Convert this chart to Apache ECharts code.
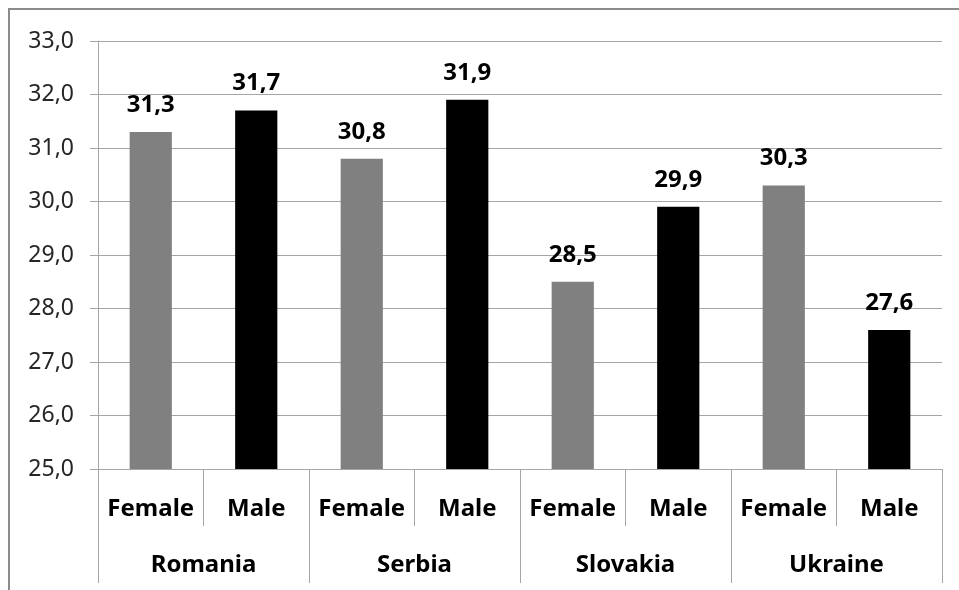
<!DOCTYPE html>
<html>
<head>
<meta charset="utf-8">
<script src="https://cdn.jsdelivr.net/npm/echarts@6/dist/echarts.min.js"></script>
<style>
  html, body { margin: 0; padding: 0; background: #fff; }
  #chart { width: 959px; height: 590px; }
</style>
</head>
<body>
<div id="chart"></div>
<script>
const countries = ["Romania", "Serbia", "Slovakia", "Ukraine"];
const genders = ["Female", "Male"];
const femaleValues = [31.3, 30.8, 28.5, 30.3];
const maleValues = [31.7, 31.9, 29.9, 27.6];
const yTicks = { min: 25, max: 33, step: 1 };

const genderColors = { Female: "#808080", Male: "#000000" };
const fontName = "Noto Sans";
const gridColor = "#a6a6a6";

// one bar per country+gender, in the order Female, Male
const categories = [];
const barData = [];
countries.forEach((c, i) => {
  genders.forEach((g) => {
    categories.push(g);
    barData.push({
      value: g === "Female" ? femaleValues[i] : maleValues[i],
      itemStyle: { color: genderColors[g] }
    });
  });
});

const fmt = (v) => v.toFixed(1).replace(".", ",");

const chart = echarts.init(document.getElementById("chart"));
chart.setOption({
  animation: false,
  textStyle: { fontFamily: fontName },
  grid: { left: 98, right: 17, top: 41, bottom: 121 },
  graphic: [
    {
      type: "rect",
      shape: { x: 9, y: 9, width: 1000, height: 1000 },
      style: { fill: "none", stroke: "#8c8c8c", lineWidth: 2 },
      silent: true
    }
  ],
  xAxis: [
    {
      type: "category",
      data: categories,
      position: "bottom",
      axisLine: { show: true, lineStyle: { color: gridColor, width: 1 } },
      axisTick: { show: true, interval: 0, length: 57, lineStyle: { color: gridColor } },
      axisLabel: {
        interval: 0, margin: 28,
        fontSize: 24, fontWeight: "bold", color: "#000", fontFamily: fontName
      }
    },
    {
      type: "category",
      data: countries,
      position: "bottom",
      axisLine: { show: false },
      axisTick: { show: true, interval: 0, length: 114, lineStyle: { color: gridColor } },
      axisLabel: {
        interval: 0, margin: 84,
        fontSize: 24, fontWeight: "bold", color: "#000", fontFamily: fontName
      }
    }
  ],
  yAxis: {
    type: "value",
    min: yTicks.min,
    max: yTicks.max,
    interval: yTicks.step,
    axisLine: { show: true, lineStyle: { color: gridColor } },
    axisTick: { show: true, length: 8, lineStyle: { color: gridColor } },
    splitLine: { lineStyle: { color: gridColor, width: 1 } },
    axisLabel: {
      formatter: fmt, margin: 24,
      fontSize: 23, color: "#262626", fontFamily: fontName
    }
  },
  series: [
    {
      type: "bar",
      xAxisIndex: 0,
      data: barData,
      barWidth: "40%",
      label: {
        show: true,
        position: "top",
        distance: 15,
        formatter: (p) => fmt(p.value),
        fontSize: 24,
        fontWeight: "bold",
        color: "#000",
        fontFamily: fontName
      }
    }
  ]
});
</script>
</body>
</html>
